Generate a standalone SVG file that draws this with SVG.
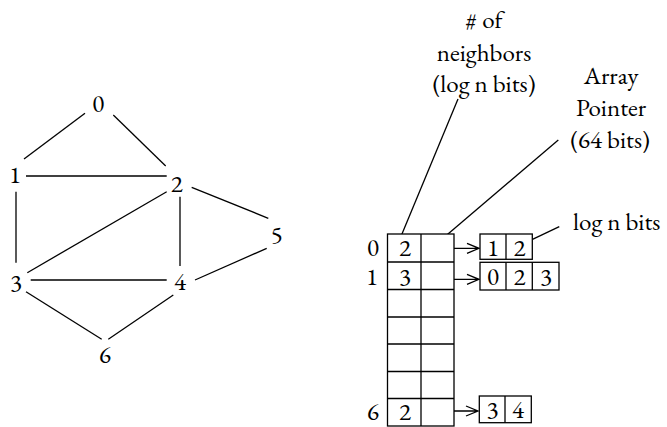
<svg xmlns="http://www.w3.org/2000/svg" width="667" height="427" viewBox="0 0 667 427">
<style>
text{font-size:25px;fill:#000;text-anchor:middle;font-variant-numeric:lining-nums}
.e{stroke:#000;stroke-width:1.3;fill:none}
.c{stroke:#000;stroke-width:1.3;fill:#fff}
</style>
<rect width="667" height="427" fill="#fff"/>
<g id="connectors">
<line class="e" x1="85" y1="113.3" x2="24" y2="159"/>
<line class="e" x1="113.3" y1="115" x2="165.7" y2="166"/>
<line class="e" x1="26" y1="176" x2="166.7" y2="176"/>
<line class="e" x1="16" y1="191.7" x2="16" y2="262.7"/>
<line class="e" x1="166.7" y1="191.7" x2="27.3" y2="272.7"/>
<line class="e" x1="180" y1="196.7" x2="180" y2="266"/>
<line class="e" x1="191.7" y1="187.3" x2="268.3" y2="218.3"/>
<line class="e" x1="266.7" y1="248.3" x2="195" y2="280"/>
<line class="e" x1="30.7" y1="280" x2="166.7" y2="280"/>
<line class="e" x1="26" y1="291.7" x2="101.7" y2="339.3"/>
<line class="e" x1="173.3" y1="295" x2="108.3" y2="339.3"/>
<line class="e" x1="458" y1="99" x2="400.5" y2="237.5"/>
<line class="e" x1="558.3" y1="140" x2="438.3" y2="242.3"/>
<line class="e" x1="532.5" y1="239.3" x2="559.3" y2="226.7"/>
<path class="e" d="M445 248.3H479M467 243.3L479 248.3L467 253.3"/>
<path class="e" d="M445 279.3H479M467 274.3L479 279.3L467 284.3"/>
<path class="e" d="M443 411H478M466 406L478 411L466 416"/>
</g>
<g font-family="EB Garamond, Liberation Serif, serif">
<g id="n0"><text x="98.3" y="112.3">0</text></g>
<g id="n1"><text x="15" y="183">1</text></g>
<g id="n2"><text x="176.7" y="192.3">2</text></g>
<g id="n3"><text x="16" y="290.5">3</text></g>
<g id="n4"><text x="180" y="290">4</text></g>
<g id="n5"><text x="276.7" y="243">5</text></g>
<g id="n6"><text x="105" y="362.7">6</text></g>
<g id="labels">
<text x="484" y="28.3"># of</text>
<text x="484" y="60.7">neighbors</text>
<text x="484" y="91.7">(log n bits)</text>
<text x="611" y="84">Array</text>
<text x="611" y="116">Pointer</text>
<text x="610" y="148.3">(64 bits)</text>
<text x="573" y="230" style="text-anchor:start">log n bits</text>
</g>
<g id="table">
<rect class="c" x="387.5" y="234" width="66.5" height="192"/>
<line class="e" x1="421" y1="234" x2="421" y2="426"/>
<line class="e" x1="387.5" y1="262" x2="454" y2="262"/>
<line class="e" x1="387.5" y1="289.5" x2="454" y2="289.5"/>
<line class="e" x1="387.5" y1="317" x2="454" y2="317"/>
<line class="e" x1="387.5" y1="344" x2="454" y2="344"/>
<line class="e" x1="387.5" y1="371.5" x2="454" y2="371.5"/>
<line class="e" x1="387.5" y1="398.5" x2="454" y2="398.5"/>
<text x="373" y="256">0</text>
<text x="405" y="256">2</text>
<text x="372" y="285">1</text>
<text x="405" y="285">3</text>
<text x="373" y="420">6</text>
<text x="405" y="420">2</text>
</g>
<g id="list0">
<rect class="c" x="480" y="234" width="52.3" height="25.3"/>
<line class="e" x1="506" y1="234" x2="506" y2="259.3"/>
<text x="493" y="256">1</text>
<text x="519.5" y="256">2</text>
</g>
<g id="list1">
<rect class="c" x="480" y="262.3" width="79" height="27.7"/>
<line class="e" x1="506" y1="262.3" x2="506" y2="290"/>
<line class="e" x1="532.3" y1="262.3" x2="532.3" y2="290"/>
<text x="493" y="285">0</text>
<text x="519.5" y="285">2</text>
<text x="546" y="285">3</text>
</g>
<g id="list6">
<rect class="c" x="479.3" y="396" width="52" height="26.7"/>
<line class="e" x1="505" y1="396" x2="505" y2="422.7"/>
<text x="492.5" y="418">3</text>
<text x="518" y="418">4</text>
</g>
</g>
</svg>
